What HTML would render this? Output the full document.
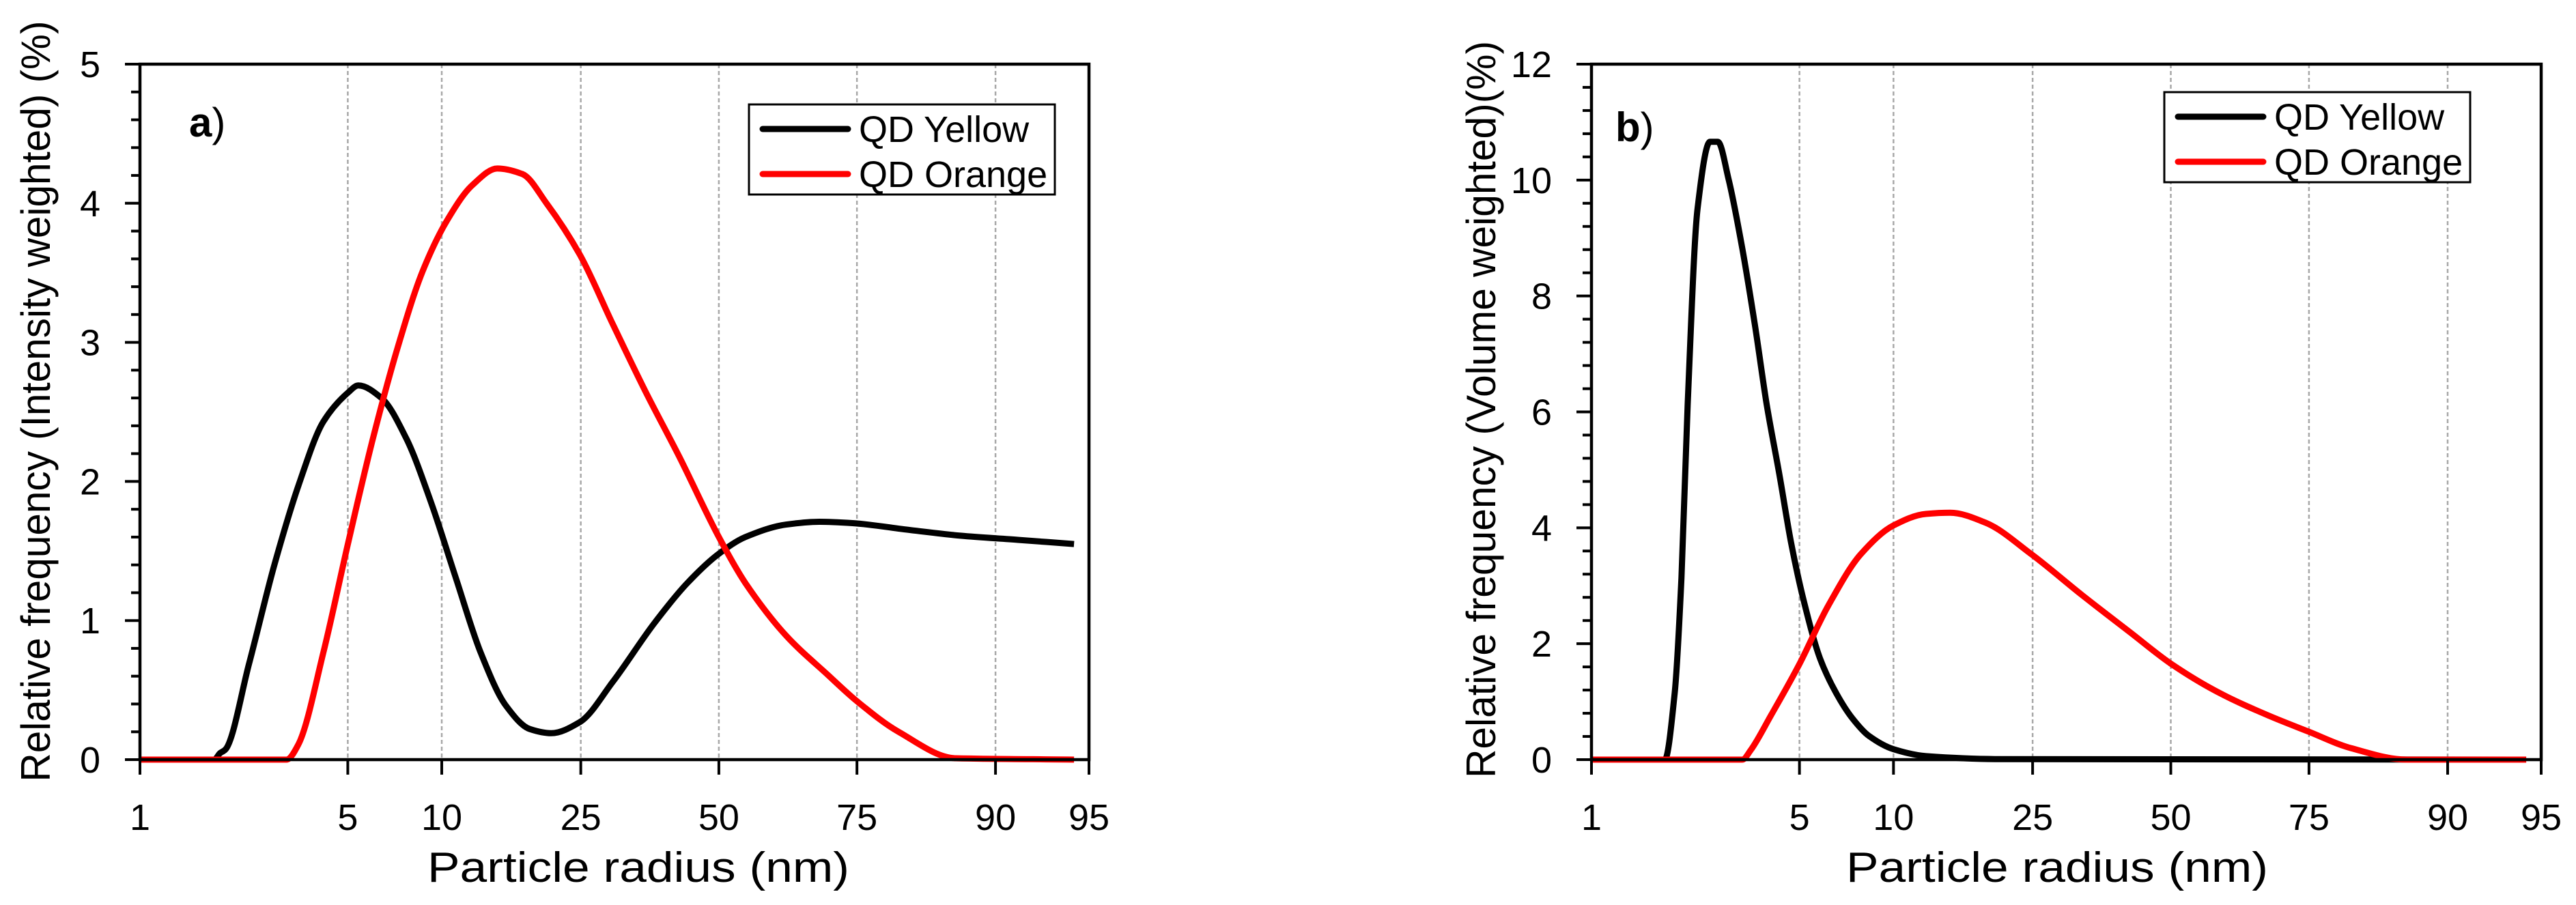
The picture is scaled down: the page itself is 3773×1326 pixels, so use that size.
<!DOCTYPE html>
<html><head><meta charset="utf-8"><style>
html,body{margin:0;padding:0;background:#fff;}
svg{display:block;font-family:"Liberation Sans",Arial,sans-serif;}
</style></head><body>
<svg id="chart" width="3773" height="1326" viewBox="0 0 3773 1326" xmlns="http://www.w3.org/2000/svg"></svg>
<script>
// ---- shared axis data ----
const xTickValues = [1, 5, 10, 25, 50, 75, 90, 95];
const xTickLabels = ["1", "5", "10", "25", "50", "75", "90", "95"];

// ---- panel a data (intensity weighted) ----
const aYellowX = [1, 2.43, 2.54, 2.65, 3.10, 3.58, 4.05, 4.53, 5.02, 5.56, 6.79, 8.11, 9.43, 11.5, 14.2, 16.9, 19.5, 21.8, 24.9, 30.8, 38.3, 44.3, 50, 54.8, 62.2, 68.2, 74.2, 80.8, 86.2, 91.2, 94.2];
const aYellowY = [0, 0, 0.046, 0.075, 0.69, 1.39, 1.97, 2.43, 2.64, 2.69, 2.60, 2.31, 1.85, 1.31, 0.77, 0.39, 0.22, 0.19, 0.27, 0.56, 0.98, 1.27, 1.48, 1.60, 1.69, 1.71, 1.70, 1.65, 1.61, 1.58, 1.55];
const aOrangeX = [1, 3.82, 4.05, 4.53, 5.02, 6.34, 7.67, 8.98, 10.6, 13.3, 16.0, 18.7, 21.3, 24.9, 30.8, 36.8, 42.8, 50, 54.8, 62.2, 69.7, 75, 79.5, 85.7, 94.2];
const aOrangeY = [0, 0, 0.11, 0.77, 1.56, 2.31, 2.97, 3.51, 3.88, 4.13, 4.25, 4.21, 4.0, 3.63, 3.13, 2.64, 2.18, 1.60, 1.27, 0.89, 0.61, 0.42, 0.20, 0.01, 0];
const aYTicks = [0, 1, 2, 3, 4, 5];

// ---- panel b data (volume weighted) ----
const bYellowX = [1, 2.41, 2.60, 2.73, 2.85, 3.04, 3.28, 3.43, 3.64, 3.90, 4.14, 4.37, 4.61, 4.84, 5.22, 6.09, 6.95, 7.82, 8.69, 10, 13.5, 21.0, 94];
const bYellowY = [0, 0, 1.15, 3.14, 6.13, 9.51, 10.66, 10.66, 10.0, 8.82, 7.52, 6.13, 4.94, 3.74, 2.75, 1.75, 1.15, 0.71, 0.41, 0.18, 0.06, 0.01, 0];
const bOrangeX = [1, 3.90, 4.06, 4.45, 5.0, 6.52, 8.25, 10, 13.5, 16.1, 19.9, 24.9, 33.8, 42.6, 50.1, 58.8, 67.7, 75, 79.5, 85.6, 94.2];
const bOrangeY = [0, 0, 0.16, 0.76, 1.65, 2.65, 3.54, 4.04, 4.24, 4.26, 4.09, 3.54, 2.85, 2.2, 1.65, 1.15, 0.76, 0.48, 0.2, 0, 0];
const bYTicks = [0, 2, 4, 6, 8, 10, 12];

const NS = "http://www.w3.org/2000/svg";
const svg = document.getElementById("chart");
const tickFrac = [0, 0.219, 0.318, 0.4645, 0.61, 0.7555, 0.9015, 1];

function mk(tag, attrs, parent, text) {
  const e = document.createElementNS(NS, tag);
  for (const k in attrs) e.setAttribute(k, attrs[k]);
  if (text !== undefined) e.textContent = text;
  (parent || svg).appendChild(e);
  return e;
}

// monotone cubic path through pixel points
function monoPath(px, py) {
  const n = px.length;
  const d = [], m = new Array(n);
  for (let i = 0; i < n - 1; i++) d.push((py[i + 1] - py[i]) / (px[i + 1] - px[i]));
  m[0] = d[0]; m[n - 1] = d[n - 2];
  for (let i = 1; i < n - 1; i++) {
    if (d[i - 1] * d[i] <= 0) m[i] = 0;
    else m[i] = 2 / (1 / d[i - 1] + 1 / d[i]);
  }
  let s = "M" + px[0].toFixed(1) + "," + py[0].toFixed(1);
  for (let i = 0; i < n - 1; i++) {
    const h = px[i + 1] - px[i];
    s += "C" + (px[i] + h / 3).toFixed(1) + "," + (py[i] + m[i] * h / 3).toFixed(1) + " " +
      (px[i + 1] - h / 3).toFixed(1) + "," + (py[i + 1] - m[i + 1] * h / 3).toFixed(1) + " " +
      px[i + 1].toFixed(1) + "," + py[i + 1].toFixed(1);
  }
  return s;
}

function drawPanel(cfg) {
  const g = mk("g", {});
  
  
  const L = cfg.left, R = cfg.right, T = 94, B = 1113, W = R - L;
  const yMax = cfg.yTicks[cfg.yTicks.length - 1];
  function xs(v) {
    for (let i = 0; i < xTickValues.length - 1; i++) {
      const a = xTickValues[i], b = xTickValues[i + 1];
      if (v <= b || i === xTickValues.length - 2) {
        const t = (v - a) / (b - a);
        return L + W * (tickFrac[i] + t * (tickFrac[i + 1] - tickFrac[i]));
      }
    }
  }
  function ys(v) { return B - (v / yMax) * (B - T); }

  for (let i = 1; i < xTickValues.length - 1; i++) {
    const x = xs(xTickValues[i]);
    const gl = mk("line", {x1: x, x2: x, y1: T, y2: B, stroke: "#a8a8a8", "stroke-width": 2.5, "stroke-dasharray": "6,4"}, g);
    
    
  }
  function series(xArr, yArr, color, nm) {
    const px = xArr.map(xs), py = yArr.map(ys);
    const p = mk("path", {d: monoPath(px, py), fill: "none", stroke: color, "stroke-width": 9, "stroke-linejoin": "round", "stroke-linecap": "butt"}, g);
    
    
  }
  series(cfg.yx, cfg.yy, "#000", "series-qd-yellow");
  series(cfg.ox, cfg.oy, "#ff0000", "series-qd-orange");

  const fr = mk("rect", {x: L, y: T, width: W, height: B - T, fill: "none", stroke: "#000", "stroke-width": 4.5}, g);
  
  

  for (let i = 0; i < xTickValues.length; i++) {
    const x = xs(xTickValues[i]);
    const tk = mk("line", {x1: x, x2: x, y1: B, y2: B + 22, stroke: "#000", "stroke-width": 4}, g);
    
    
    const tl = mk("text", {x: x, y: 1216, "font-size": 54, "text-anchor": "middle"}, g, xTickLabels[i]);
    
    
  }
  const step = cfg.yTicks[1] - cfg.yTicks[0];
  for (let i = 0; i < cfg.yTicks.length; i++) {
    const v = cfg.yTicks[i], y = ys(v);
    const tk = mk("line", {x1: L - 22, x2: L, y1: y, y2: y, stroke: "#000", "stroke-width": 4}, g);
    
    
    const tl = mk("text", {x: L - 58, y: y + 19, "font-size": 54, "text-anchor": "end"}, g, String(v));
    
    
    if (i < cfg.yTicks.length - 1) {
      for (let k = 1; k < 5; k++) {
        const ym = ys(v + step * k / 5);
        const mt = mk("line", {x1: L - 13, x2: L, y1: ym, y2: ym, stroke: "#000", "stroke-width": 4}, g);
        
        
      }
    }
  }
  const xt = mk("text", {x: cfg.xTitleX, y: 1292, "font-size": 62, "text-anchor": "middle", textLength: 618, lengthAdjust: "spacingAndGlyphs"}, g, "Particle radius (nm)");
  
  
  const yt = mk("text", {x: 0, y: 0, "font-size": 60, "text-anchor": "middle", textLength: cfg.yTitleLen, lengthAdjust: "spacingAndGlyphs", transform: "translate(" + cfg.yTitleX + "," + cfg.yTitleY + ") rotate(-90)"}, g, cfg.yTitle);
  
  

  const pl = mk("text", {x: cfg.labelX, y: cfg.labelY, "font-size": 60}, g);
  
  
  mk("tspan", {"font-weight": "bold"}, pl, cfg.label);
  mk("tspan", {}, pl, ")");

  const lg = mk("g", {}, g);
  
  
  const lb = mk("rect", {x: cfg.lgX, y: cfg.lgY, width: 448, height: 132, fill: "#fff", stroke: "#000", "stroke-width": 3}, lg);
  
  
  const names = ["QD Yellow", "QD Orange"], cols = ["#000", "#ff0000"];
  for (let i = 0; i < 2; i++) {
    const cy = cfg.lgY + 36 + i * 66;
    const e = mk("g", {}, lg);
    
    
    mk("line", {x1: cfg.lgX + 20, x2: cfg.lgX + 145, y1: cy, y2: cy, stroke: cols[i], "stroke-width": 9, "stroke-linecap": "round"}, e);
    mk("text", {x: cfg.lgX + 161, y: cy + 19, "font-size": 54}, e, names[i]);
  }
}

drawPanel({name: "panel-a-intensity", left: 205, right: 1595, yTicks: aYTicks,
  yx: aYellowX, yy: aYellowY, ox: aOrangeX, oy: aOrangeY,
  xTitleX: 935, yTitleX: 73, yTitleY: 588, yTitleLen: 1115,
  yTitle: "Relative frequency (Intensity weighted) (%)",
  label: "a", labelX: 277, labelY: 200, lgX: 1097, lgY: 153});
drawPanel({name: "panel-b-volume", left: 2331, right: 3722, yTicks: bYTicks,
  yx: bYellowX, yy: bYellowY, ox: bOrangeX, oy: bOrangeY,
  xTitleX: 3013, yTitleX: 2190, yTitleY: 600, yTitleLen: 1080,
  yTitle: "Relative frequency (Volume weighted)(%)",
  label: "b", labelX: 2366, labelY: 207, lgX: 3170, lgY: 135});
</script>
</body></html>
